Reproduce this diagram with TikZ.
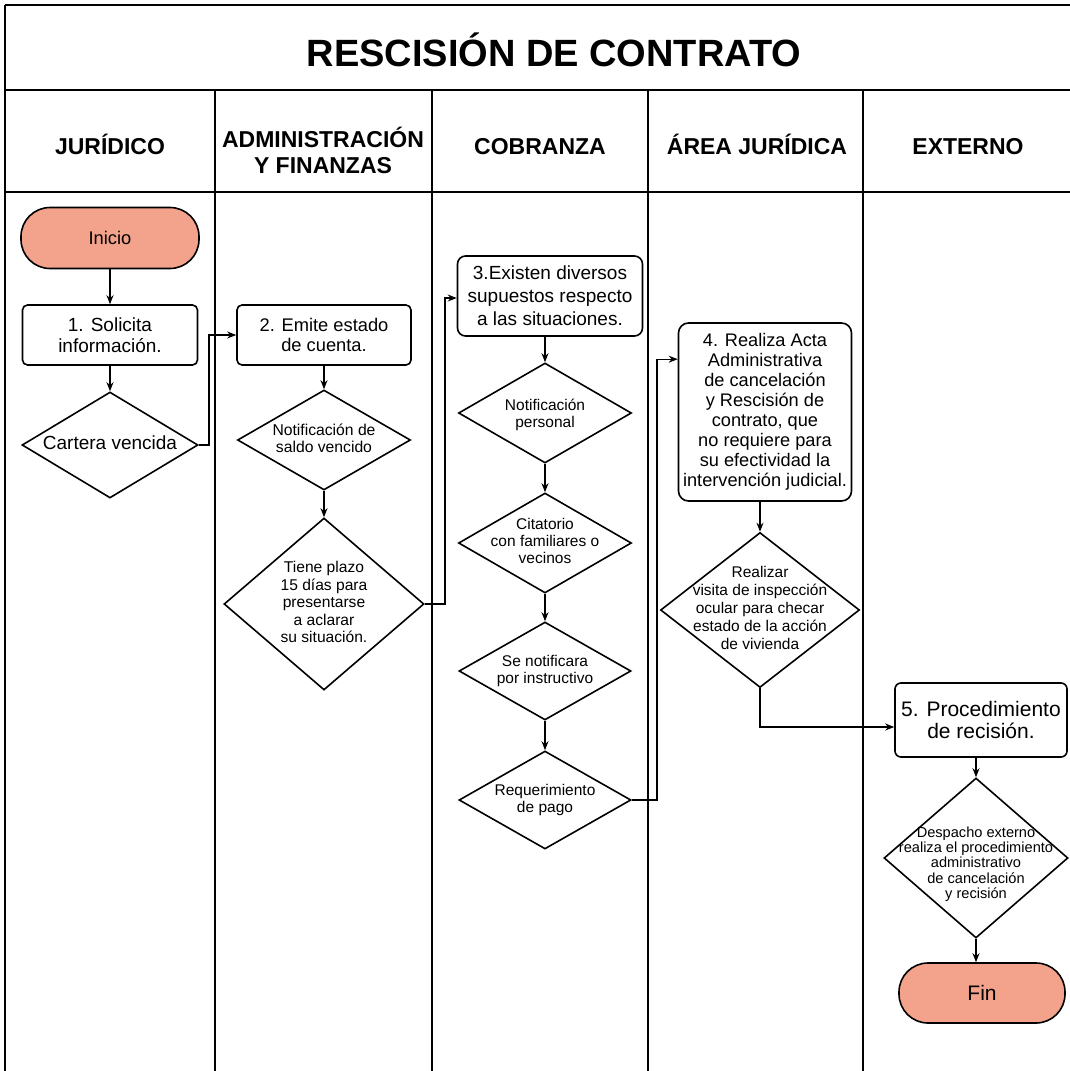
\documentclass[tikz,border=0pt]{standalone}
\usepackage{fontspec}
\setmainfont{Liberation Sans}
\newfontfamily\titlefont{Liberation Sans}
\usetikzlibrary{shapes.geometric,arrows.meta}
\definecolor{pillfill}{RGB}{243,162,140}
\newcommand{\fs}[2]{\fontsize{#1}{#2}\selectfont}
\newcommand{\dtext}[4][0pt]{\makebox[0pt]{\fs{#2}{#3}\smash{\raisebox{\dimexpr-.25em-#1\relax}{\begin{tabular}{@{}c@{}}#4\end{tabular}}}}}
\begin{document}
\begin{tikzpicture}[x=1pt,y=-1pt,
  lane/.style={line width=2pt},
  box/.style={draw, line width=1.6pt, rounded corners=5pt, align=center, inner sep=0pt},
  pillbox/.style={draw, line width=1.6pt, fill=pillfill, rounded corners=29pt, inner sep=0pt},
  dia/.style={diamond, draw, line width=1.6pt, inner sep=0pt},
  arr/.style={line width=1.4pt, -{Stealth[length=9pt,width=7pt]}},
  hdr/.style={font=\bfseries\fs{23}{26}, align=center}
]
\useasboundingbox (0,0) rectangle (1070,1071);
% frame and lanes
\draw[lane] (5,5) -- (1072,5);
\draw[lane] (5,90) -- (1072,90);
\draw[lane] (5,192) -- (1072,192);
\draw[lane] (5,5) -- (5,1072);
\foreach \x in {215,432,648,863} \draw[lane] (\x,90) -- (\x,1072);
% title and headers
\node[anchor=base, font=\titlefont\bfseries\fs{38}{40}] (title) at (554,66) {RESCISIÓN DE CONTRATO};
\node[hdr, anchor=base] (h1) at (110,154) {JURÍDICO};
\node[hdr] (h2) at (323,150) {ADMINISTRACIÓN\\Y FINANZAS};
\node[hdr, anchor=base] (h3) at (540,154) {COBRANZA};
\node[hdr, anchor=base] (h4) at (757,154) {ÁREA JURÍDICA};
\node[hdr, anchor=base] (h5) at (968,154) {EXTERNO};
% lane 1
\node[pillbox, minimum width=178pt, minimum height=61pt, font=\fs{18.3}{20}] (inicio) at (110,238) {Inicio};
\node[box, minimum width=175pt, minimum height=60pt, font=\fs{19}{21}] (b1) at (110,335) {1. Solicita\\información.};
\node[dia, minimum width=176pt, minimum height=106pt] (d1) at (110,445) {\dtext{19}{21}{Cartera vencida}};
% lane 2
\node[box, minimum width=174pt, minimum height=60pt, font=\fs{18.3}{20}] (b2) at (324,335) {2. Emite estado\\de cuenta.};
\node[dia, minimum width=173pt, minimum height=100pt] (d2) at (324,440) {\dtext{15.7}{17}{Notificación de\\saldo vencido}};
\node[dia, minimum width=200pt, minimum height=172pt] (d3) at (324,604) {\dtext{15.6}{17.5}{Tiene plazo\\15 días para\\presentarse\\a aclarar\\su situación.}};
% lane 3
\node[box, rounded corners=8pt, minimum width=185pt, minimum height=80pt, font=\fs{19}{23}] (b3) at (550,296) {3.Existen diversos\\supuestos respecto\\a las situaciones.};
\node[dia, minimum width=173pt, minimum height=100pt] (d4) at (545,413) {\dtext[2pt]{15.5}{17}{Notificación\\personal}};
\node[dia, minimum width=173pt, minimum height=100pt] (d5) at (545,543) {\dtext{15.5}{17}{Citatorio\\con familiares o\\vecinos}};
\node[dia, minimum width=172pt, minimum height=98pt] (d6) at (545,671) {\dtext{15.5}{17}{Se notificara\\por instructivo}};
\node[dia, minimum width=172pt, minimum height=98pt] (d7) at (545,800) {\dtext{15.5}{17}{Requerimiento\\de pago}};
% lane 4
\node[box, rounded corners=10pt, minimum width=173pt, minimum height=178pt, font=\fs{18.2}{20}] (b4) at (765,412) {4. Realiza Acta\\Administrativa\\de cancelación\\y Rescisión de\\contrato, que\\no requiere para\\su efectividad la\\intervención judicial.};
\node[dia, minimum width=199pt, minimum height=155pt] (d8) at (760,610) {\dtext{15.5}{18}{Realizar\\visita de inspección\\ocular para checar\\estado de la acción\\de vivienda}};
% lane 5
\node[box, rounded corners=6pt, minimum width=172pt, minimum height=74pt, font=\fs{21}{21.5}] (b5) at (981,720) {5. Procedimiento\\de recisión.};
\node[dia, minimum width=184pt, minimum height=160pt] (d9) at (976,858) {\dtext[7pt]{14.6}{14.8}{Despacho externo\\realiza el procedimiento\\administrativo\\de cancelación\\y recisión}};
\node[pillbox, minimum width=166pt, minimum height=60pt, font=\fs{21}{22}] (fin) at (982,993) {Fin};
% connectors
\draw[arr] (inicio) -- (b1);
\draw[arr] (b1) -- (d1);
\draw[arr] (d1.east) -- ++(10,0) |- (b2.west);
\draw[arr] (b2) -- (d2);
\draw[arr] (d2) -- (d3);
\draw[arr] (d3.east) -- ++(20,0) |- ([yshift=-2pt]b3.west);
\draw[arr] (b3.south -| d4.north) -- (d4.north);
\draw[arr] (d4) -- (d5);
\draw[arr] (d5) -- (d6);
\draw[arr] (d6) -- (d7);
\draw[arr] (d7.east) -- ++(25,0) |- ([yshift=-37pt]b4.north west);
\draw[arr] (b4.south -| d8.north) -- (d8.north);
\draw[arr] (d8.south) |- ([yshift=-7pt]b5.west);
\draw[arr] (b5.south -| d9.north) -- (d9.north);
\draw[arr] (d9.south) -- (d9.south |- fin.north);
\end{tikzpicture}
\end{document}
